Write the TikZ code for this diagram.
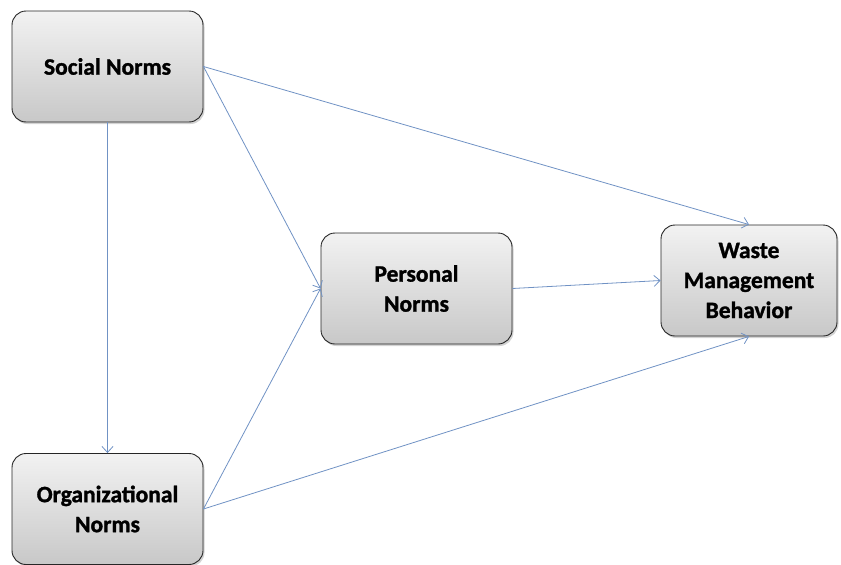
\documentclass[tikz,border=0pt]{standalone}
\usepackage{fontspec}
\setmainfont{Carlito}[BoldFeatures={FakeBold=1.3}]
\usepackage{xcolor}
\usetikzlibrary{arrows.meta,shadows,positioning,calc}
\definecolor{linkblue}{RGB}{112,146,196}
\definecolor{boxtop}{RGB}{242,242,242}
\definecolor{boxbottom}{RGB}{200,200,200}

\begin{document}
\begin{tikzpicture}[x=1pt,y=-1pt]
    % Define styles
    \tikzstyle{normbox} = [rectangle, rounded corners=14pt, draw=black!85, line width=0.9pt, top color=boxtop, bottom color=boxbottom, minimum width=191pt, minimum height=111pt, align=center, font=\fontsize{23.5}{30}\selectfont\bfseries, drop shadow={shadow xshift=1.5pt, shadow yshift=-2pt, opacity=0.35}]
    \tikzstyle{link} = [draw=linkblue, line width=0.8pt, -{Straight Barb[length=6pt,width=11pt]}]

    \useasboundingbox (0,0) rectangle (841,565);

    % Norm boxes
    \node[normbox] (social) at (107.5,66.5) {Social Norms};
    \node[normbox] (org) at (107.5,509) {Organizational\\Norms};
    \node[normbox] (personal) at (416.5,288.5) {Personal\\Norms};
    \node[normbox, minimum width=176pt] (waste) at (749,280.5) {Waste\\Management\\Behavior};

    % Arrows
    \draw[link] (social.east) -- (waste.north);
    \draw[link] (social.east) -- (personal.west);
    \draw[link] (social.south) -- (org.north);
    \draw[link] (org.east) -- (personal.west);
    \draw[link] (org.east) -- (waste.south);
    \draw[link] (personal.east) -- (waste.west);

\end{tikzpicture}
\end{document}
